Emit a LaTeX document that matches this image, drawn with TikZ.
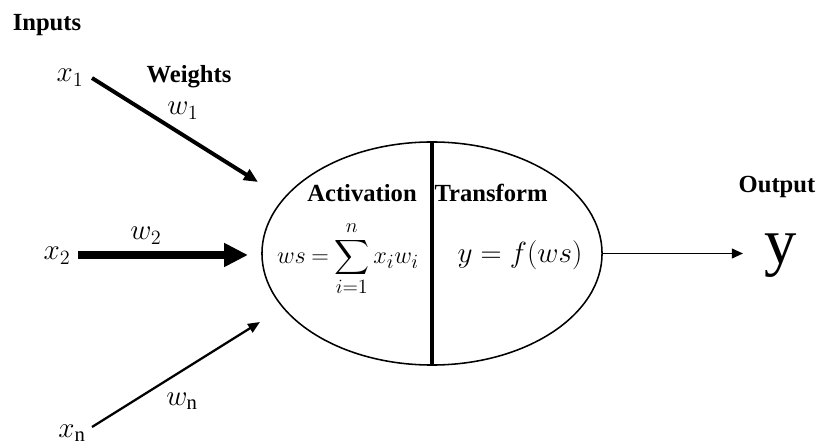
\documentclass[tikz,border=0pt]{standalone}
\usepackage{exscale}
\usepackage{fontspec}
\setmainfont{Liberation Serif}
\usetikzlibrary{arrows.meta,shapes.geometric}
\tikzset{
  lbl/.style={font=\bfseries\fontsize{17.5}{20}\selectfont, inner sep=0pt},
  var/.style={font=\fontsize{21}{25}\selectfont, inner sep=0pt},
}
\begin{document}
\begin{tikzpicture}[x=0.025cm,y=-0.025cm]
    \useasboundingbox (0,0) rectangle (820,444);

    % Neuron body (ellipse split in two)
    \node[draw, ellipse, line width=1.1pt, minimum width=8.5cm, minimum height=5.575cm, inner sep=0pt] (neuron) at (432,253.5) {};
    \draw[line width=2.8pt] (neuron.north) -- (neuron.south);

    % Headings
    \node[lbl, anchor=base] (inputs) at (47,30.5) {Inputs};
    \node[lbl, anchor=base] (weights) at (189,83) {Weights};
    \node[lbl, anchor=base] (activation) at (362,202) {Activation};
    \node[lbl, anchor=base] (transform) at (491,202) {Transform};
    \node[lbl, anchor=base] (output) at (777,193) {Output};

    % Inputs and weights
    \node[var, anchor=base] (x1) at (70,82) {$x_1$};
    \node[var, anchor=base] (x2) at (57,260) {$x_2$};
    \node[var, anchor=base] (xn) at (72,437) {$x_{\mathrm{n}}$};
    \node[var, anchor=base] (w1) at (183,115) {$w_1$};
    \node[var, anchor=base] (w2) at (146,240) {$w_2$};
    \node[var, anchor=base] (wn) at (182,405) {$w_{\mathrm{n}}$};

    % Formulas inside the neuron
    \node[var, font=\fontsize{19}{23}\selectfont] (sum) at (348,259) {\thickmuskip=4mu$ws = \displaystyle\sum_{i=1}^{n} x_i w_i$};
    \node[var, anchor=base] (act) at (520,263) {$y = f(ws)$};

    % Output value
    \node[anchor=base, inner sep=0pt, font=\fontsize{46}{52}\selectfont] (y) at (781,263.5) {y};

    % Arrow ends
    \coordinate (s1) at (92,78);
    \coordinate (t1) at (258,182);
    \coordinate (s2) at (78,255);
    \coordinate (t2) at (248,255);
    \coordinate (sn) at (92,427);
    \coordinate (tn) at (260,322);
    \coordinate (ty) at (743,253.5);

    % Weighted connections
    \draw[line width=2.8pt, -{Triangle[length=10pt,width=8.5pt]}] (s1) -- (t1);
    \draw[line width=5.7pt, -{Triangle[length=17pt,width=16pt]}] (s2) -- (t2);
    \draw[line width=1.6pt, -{Triangle[length=8.5pt,width=7pt]}] (sn) -- (tn);
    \draw[line width=1.3pt, -{Triangle[length=8pt,width=7pt]}] (neuron.east) -- (ty);
\end{tikzpicture}
\end{document}
